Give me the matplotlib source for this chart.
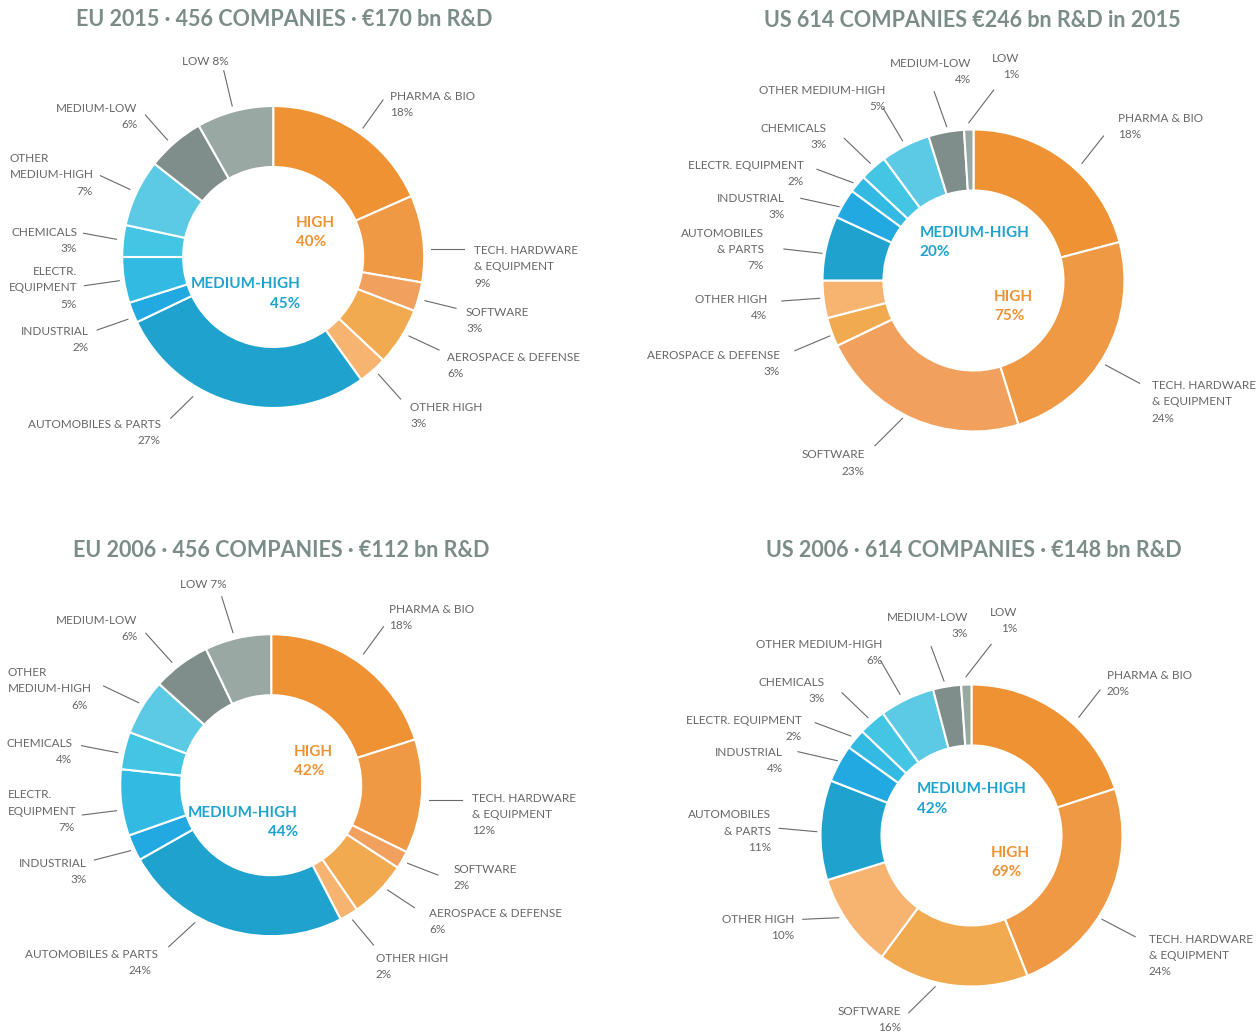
import matplotlib
matplotlib.use("Agg")
import matplotlib.pyplot as plt

W, H = 1257, 1034

eu15_nomes = ["PHARMA & BIO", "TECH. HARDWARE\n& EQUIPMENT", "SOFTWARE",
              "AEROSPACE & DEFENSE", "OTHER HIGH", "AUTOMOBILES & PARTS",
              "INDUSTRIAL", "ELECTR.\nEQUIPMENT", "CHEMICALS",
              "OTHER\nMEDIUM-HIGH", "MEDIUM-LOW", "LOW"]
eu15_pct = [18, 9, 3, 6, 3, 27, 2, 5, 3, 7, 6, 8]
eu15_fatia = [18.4, 9.3, 3.1, 6.2, 3.1, 27.8, 2.2, 4.9, 3.4, 7.2, 6.2, 8.2]
eu15_grupos = [40, 45]  # high, medium-high

us15_nomes = ["PHARMA & BIO", "TECH. HARDWARE\n& EQUIPMENT", "SOFTWARE",
              "AEROSPACE & DEFENSE", "OTHER HIGH", "AUTOMOBILES\n& PARTS",
              "INDUSTRIAL", "ELECTR. EQUIPMENT", "CHEMICALS",
              "OTHER MEDIUM-HIGH", "MEDIUM-LOW", "LOW"]
us15_pct = [18, 24, 23, 3, 4, 7, 3, 2, 3, 5, 4, 1]
us15_fatia = [20.9, 24.3, 22.7, 3.1, 4.0, 6.9, 3.2, 1.9, 2.9, 5.3, 3.8, 1.0]
us15_grupos = [75, 20]

eu06_nomes = ["PHARMA & BIO", "TECH. HARDWARE\n& EQUIPMENT", "SOFTWARE",
              "AEROSPACE & DEFENSE", "OTHER HIGH", "AUTOMOBILES & PARTS",
              "INDUSTRIAL", "ELECTR.\nEQUIPMENT", "CHEMICALS",
              "OTHER\nMEDIUM-HIGH", "MEDIUM-LOW", "LOW"]
eu06_pct = [18, 12, 2, 6, 2, 24, 3, 7, 4, 6, 6, 7]
eu06_fatia = [20.1, 12.2, 1.9, 6.2, 2.0, 24.4, 2.8, 7.1, 4.0, 6.0, 6.2, 7.1]
eu06_grupos = [42, 44]

us06_nomes = ["PHARMA & BIO", "TECH. HARDWARE\n& EQUIPMENT", "SOFTWARE",
              "OTHER HIGH", "AUTOMOBILES\n& PARTS", "INDUSTRIAL",
              "ELECTR. EQUIPMENT", "CHEMICALS", "OTHER MEDIUM-HIGH",
              "MEDIUM-LOW", "LOW"]
us06_pct = [20, 24, 16, 10, 11, 4, 2, 3, 6, 3, 1]
us06_fatia = [20.0, 24.0, 16.2, 10.1, 10.7, 4.0, 2.2, 2.9, 5.9, 3.0, 1.1]
us06_grupos = [69, 42]

# estilo
FONTE = "Lato"
COR_TITULO = "#7B8C89"
COR_TEXTO = "#666666"
COR_LINHA = "#6A6A6A"
COR_HIGH = "#EE9233"
COR_MH = "#1FA3CE"

CORES = {
    "pharma": "#EE9233",
    "tech": "#EF9945",
    "salmao": "#F1A15D",
    "ambar": "#F2AA50",
    "pessego": "#F7B470",
    "auto": "#1FA3CE",
    "ind": "#23A9E1",
    "elec": "#33BAE3",
    "chem": "#43C5E4",
    "omh": "#5CCAE4",
    "mlow": "#7F8E8B",
    "low": "#9AA8A4",
}
SEQ_12 = ["pharma", "tech", "salmao", "ambar", "pessego", "auto", "ind",
          "elec", "chem", "omh", "mlow", "low"]
SEQ_US06 = ["pharma", "tech", "ambar", "pessego", "auto", "ind", "elec",
            "chem", "omh", "mlow", "low"]

R_EXT = 151
R_INT = 90
LINHA_H = 16.2
CENTRO_H = 19.5

# posições dos rótulos: linha (x0, y0, x1, y1), texto (x, y, ha), pct
LAY_EU15 = [
    (363, 128, 383, 100, 390.5, 96.7, "left", None),
    (430.7, 249, 464, 249, 474, 250.7, "left", None),
    (425, 300.7, 456, 308.3, 466, 312.3, "left", None),
    (409, 336, 439, 350, 447, 357.3, "left", None),
    (378.5, 374.3, 400.6, 399, 410, 407.3, "left", None),
    (192.8, 396.7, 170.7, 418.3, 161, 424.3, "right", None),
    (127.8, 319.3, 97.2, 330, 89, 331.7, "right", None),
    (119.3, 280.7, 84.4, 285.7, 77, 271.7, "right", None),
    (116.5, 239.3, 83.6, 233.3, 77, 232.3, "right", None),
    (129.8, 189.3, 100.4, 175.7, 10, 158.7, "left", 93),
    (167.5, 140, 145.4, 115, 137.4, 108.3, "right", None),
    (232.2, 106, 223.8, 70.7, 205.3, 61.7, "center", "inline"),
]
LAY_US15 = [
    (1082, 163.3, 1103.5, 136, 1118.3, 118.3, "left", None),
    (1105.5, 365, 1139.6, 383.3, 1151.7, 385.7, "left", None),
    (902.5, 418.3, 875, 445.7, 865, 455, "right", None),
    (829.7, 336, 794.8, 350.7, 780, 355.7, "right", None),
    (819.7, 298.3, 781.9, 301, 767.5, 299.3, "right", None),
    (822, 253.3, 783.9, 249, 764, 233.3, "right", None),
    (839, 206.7, 800.8, 198.3, 784.7, 198.7, "right", None),
    (853, 182.7, 816.9, 169.3, 804, 165.7, "right", None),
    (870.3, 163.3, 844.2, 138.3, 826.9, 128.7, "right", None),
    (902.5, 140.7, 883.2, 108.3, 885.2, 90.7, "right", None),
    (946.7, 126.7, 934.2, 91.7, 970.8, 63.3, "right", None),
    (968.8, 122.7, 993.7, 90, 1019, 58.3, "right", None),
]
LAY_EU06 = [
    (363.5, 654, 383.5, 626.7, 388.8, 609.3, "left", None),
    (429, 800, 461.8, 800, 472, 798.3, "left", None),
    (407.6, 863.3, 437.8, 875, 453.8, 869.3, "left", None),
    (387.6, 890, 414.5, 907.7, 429, 913.3, "left", None),
    (352.6, 920, 373.5, 945, 375.5, 958.3, "left", None),
    (194.8, 922.7, 168.7, 946.7, 157.8, 954.3, "right", 151),
    (130.5, 850.7, 94.4, 860, 86.3, 863.3, "right", None),
    (116.5, 810.7, 82.3, 815, 8, 795, "left", 74.3),
    (117.7, 752.7, 81.5, 745.7, 72.3, 743.3, "right", None),
    (138.6, 702.7, 103.6, 686, 8, 672.7, "left", 87.6),
    (171.9, 662.3, 145.8, 633.3, 137.4, 620, "right", None),
    (233, 632.7, 221.7, 596.7, 203, 584.3, "center", "inline"),
]
LAY_US06 = [
    (1078.8, 717.3, 1100, 690, 1106.8, 675.7, "left", None),
    (1102, 919.3, 1135.2, 936.7, 1148.8, 939.3, "left", None),
    (935.2, 986.7, 908.8, 1012.7, 900.8, 1011.7, "right", None),
    (838.8, 917.7, 802.8, 919.3, 794, 919.3, "right", None),
    (816.8, 831.7, 779.2, 828.3, 770.8, 815, "right", None),
    (837.2, 760.7, 798, 751.7, 782.8, 752.3, "right", None),
    (850.8, 736, 815.2, 722.7, 802, 720, "right", None),
    (868, 717.7, 842, 692.7, 824.8, 682.3, "right", None),
    (900, 694.3, 880.8, 661, 882.8, 644.3, "right", None),
    (944, 681, 931.2, 646.7, 968, 617.3, "right", None),
    (966, 676.7, 991.2, 644.3, 1017.2, 612.3, "right", None),
]

GRAFICOS = [
    dict(titulo="EU 2015 · 456 COMPANIES · €170 bn R&D", tpos=(284.5, 20),
         centro=(273.2, 257), nomes=eu15_nomes, pct=eu15_pct, fatia=eu15_fatia,
         grupos=eu15_grupos, seq=SEQ_12, lay=LAY_EU15,
         high=(296, 222.7, "left"), mh=(300.5, 284, "right")),
    dict(titulo="US 614 COMPANIES €246 bn R&D in 2015", tpos=(972, 20.7),
         centro=(973.5, 280.5), nomes=us15_nomes, pct=us15_pct, fatia=us15_fatia,
         grupos=us15_grupos, seq=SEQ_12, lay=LAY_US15,
         high=(994, 296.7, "left"), mh=(919.4, 232.7, "left")),
    dict(titulo="EU 2006 · 456 COMPANIES · €112 bn R&D", tpos=(281.7, 550.7),
         centro=(271.2, 785.2), nomes=eu06_nomes, pct=eu06_pct, fatia=eu06_fatia,
         grupos=eu06_grupos, seq=SEQ_12, lay=LAY_EU06,
         high=(294, 751.7, "left"), mh=(298, 812.7, "right")),
    dict(titulo="US 2006 · 614 COMPANIES · €148 bn R&D", tpos=(973.5, 550.7),
         centro=(971.5, 835.5), nomes=us06_nomes, pct=us06_pct, fatia=us06_fatia,
         grupos=us06_grupos, seq=SEQ_US06, lay=LAY_US06,
         high=(991.2, 852.7, "left"), mh=(916.8, 789.3, "left")),
]


def rotulo(ax, x, y, s, ha):
    ax.text(x, y, s, ha=ha, va="center", fontsize=8.5, color=COR_TEXTO,
            family=FONTE)


def desenha_donut(ax, g):
    cx, cy = g["centro"]
    cores = [CORES[k] for k in g["seq"]]
    # eixo y invertido: startangle -90 = topo, counterclock=True = sentido horário
    ax.pie(g["fatia"], colors=cores, center=(cx, cy), radius=R_EXT,
           startangle=-90, counterclock=True,
           wedgeprops=dict(width=R_EXT - R_INT, edgecolor="white", linewidth=1.5))

    for nome, pct, lay in zip(g["nomes"], g["pct"], g["lay"]):
        x0, y0, x1, y1, tx, ty, ha, px = lay
        ax.plot([x0, x1], [y0, y1], color=COR_LINHA, lw=0.8)
        linhas = nome.split("\n")
        if px == "inline":
            linhas[-1] += f" {pct}%"
        for i, s in enumerate(linhas):
            rotulo(ax, tx, ty + i * LINHA_H, s, ha)
        if px != "inline":
            yp = ty + len(linhas) * LINHA_H
            if px is None:
                rotulo(ax, tx, yp, f"{pct}%", ha)
            else:
                rotulo(ax, px, yp, f"{pct}%", "right")

    # textos do centro
    hi, mh = g["grupos"]
    for (x, y, ha), nome, val, cor in [(g["high"], "HIGH", hi, COR_HIGH),
                                       (g["mh"], "MEDIUM-HIGH", mh, COR_MH)]:
        ax.text(x, y, nome, ha=ha, va="center", fontsize=11, fontweight="bold",
                color=cor, family=FONTE)
        ax.text(x, y + CENTRO_H, f"{val}%", ha=ha, va="center", fontsize=11,
                fontweight="bold", color=cor, family=FONTE)

    tx, ty = g["tpos"]
    ax.text(tx, ty, g["titulo"], ha="center", va="center", fontsize=15.5,
            fontweight="bold", color=COR_TITULO, family=FONTE)


fig = plt.figure(figsize=(W / 100, H / 100), dpi=100)
fig.patch.set_facecolor("white")
ax = fig.add_axes([0, 0, 1, 1])

for g in GRAFICOS:
    desenha_donut(ax, g)

ax.set_xlim(0, W)
ax.set_ylim(H, 0)
ax.set_aspect("equal")
ax.axis("off")

fig.savefig("out.png", dpi=100, facecolor="white")
plt.close(fig)
